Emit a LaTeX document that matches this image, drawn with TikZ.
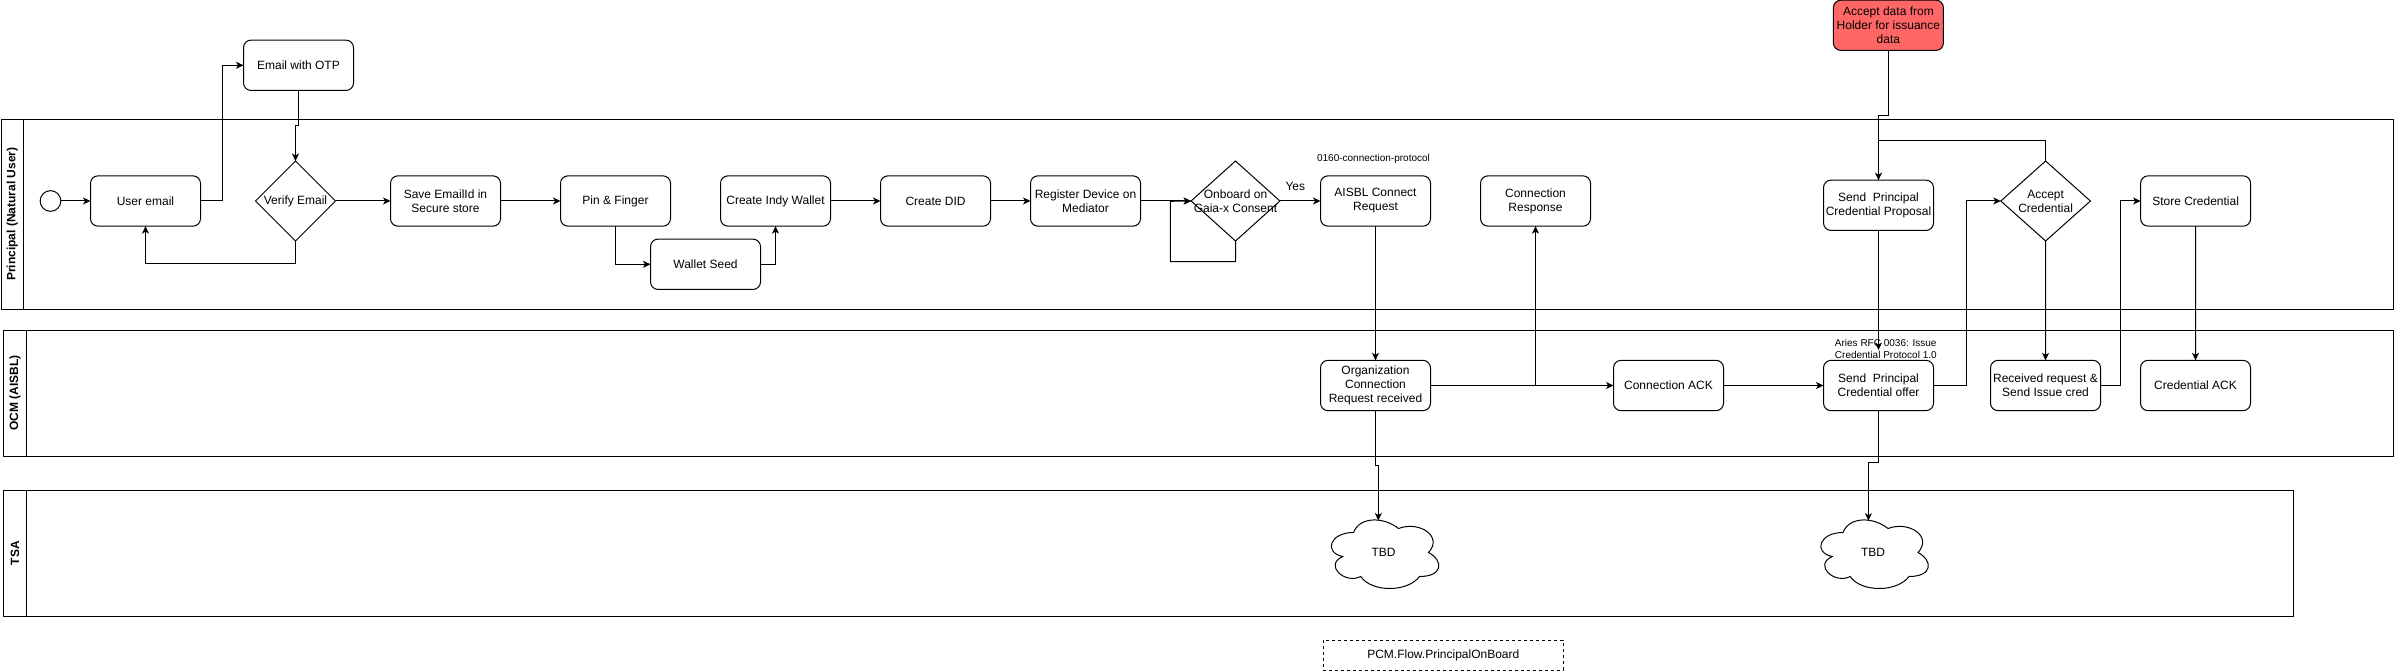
\documentclass[tikz,border=0pt]{standalone}
\usepackage{fontspec}
\setmainfont{Liberation Sans}
\usetikzlibrary{arrows.meta,shapes.geometric}

% draw.io style cloud around a named node
\newcommand{\tbdcloud}[1]{%
  \draw[shift={(#1.center)},x=120pt,y=80pt]
    (-.25,.25) .. controls (-.45,.25) and (-.5,0) .. (-.34,-.05)
    .. controls (-.5,-.16) and (-.32,-.4) .. (-.19,-.3)
    .. controls (-.1,-.5) and (.2,-.5) .. (.3,-.3)
    .. controls (.5,-.3) and (.5,-.1) .. (.375,0)
    .. controls (.5,.2) and (.3,.4) .. (.125,.3)
    .. controls (0,.45) and (-.2,.45) .. (-.25,.25) -- cycle;}

\begin{document}
\begin{tikzpicture}[x=1pt,y=-1pt,>={Stealth[length=7.5pt,width=7pt,inset=2pt]},auto,node distance=150pt,line width=1pt,
        font=\fontsize{12}{14}\selectfont,
        task node/.style={rectangle,rounded corners=7.5pt,draw,align=center,inner sep=1pt,outer sep=0pt,
            minimum width=110pt,minimum height=50.3pt},
        gate node/.style={diamond,draw,inner sep=0pt,outer sep=0pt,minimum height=80pt,label distance=0pt},
        note node/.style={font=\fontsize{10}{12}\selectfont,inner sep=0pt,align=left},
        pool head/.style={rectangle,draw,rotate=90,inner sep=0pt,outer sep=0pt,font=\fontsize{12}{14}\selectfont\bfseries},
        pool body/.style={rectangle,draw,inner sep=0pt,outer sep=0pt,anchor=north west}]
        \useasboundingbox (0,0) rectangle (2394,671);

        % lanes
        \node[pool head, minimum width=190pt, minimum height=22.5pt] (lane1) at (12.25,214.3) {Principal (Natural User)};
        \node[pool body, minimum width=2369.5pt, minimum height=190pt] (body1) at (23.5,119.3) {};
        \node[pool head, minimum width=126pt, minimum height=22.8pt] (lane2) at (14.9,393.3) {OCM (AISBL)};
        \node[pool body, minimum width=2366.7pt, minimum height=126pt] (body2) at (26.3,330.3) {};
        \node[pool head, minimum width=126pt, minimum height=22.8pt] (lane3) at (14.9,553.3) {TSA};
        \node[pool body, minimum width=2267.4pt, minimum height=126pt] (body3) at (26.3,490.3) {};

        % principal lane
        \node[circle, draw, inner sep=0pt, outer sep=0pt, minimum size=20.7pt] (start) at (50.5,201) {};
        \node[task node] (user) [right of=start, node distance=95pt] {User email};
        \node[gate node, minimum width=80pt, label={[align=center]center:Verify Email}] (verify) [right of=user] {};
        \node[task node] (otp) at (298.5,65.3) {Email with OTP};
        \node[task node] (save) [right of=verify] {Save EmailId in\\Secure store};
        \node[task node] (pin) [right of=save, node distance=170pt] {Pin \& Finger};
        \node[task node] (seed) at (705.5,264.3) {Wallet Seed};
        \node[task node] (indy) [right of=pin, node distance=160pt] {Create Indy Wallet};
        \node[task node] (did) [right of=indy, node distance=160pt] {Create DID};
        \node[task node] (mediator) [right of=did] {Register Device on\\Mediator};
        \node[gate node, minimum width=88.8pt, label={[align=center]center:Onboard on\\Gaia-x Consent}] (onboard) [right of=mediator] {};
        \node[task node] (connect) [right of=onboard, node distance=140pt] {AISBL Connect\\Request};
        \node[task node] (response) [right of=connect, node distance=160pt] {Connection\\Response};
        \node[task node, fill=red!60!white] (data) at (1888.4,25.3) {Accept data from\\Holder for issuance\\data};
        \node[task node] (proposal) at (1878.5,205.3) {Send\ \ Principal\\Credential Proposal};
        \node[gate node, minimum width=89.6pt, label={[align=center]center:Accept\\Credential}] (accept) at (2045.6,201) {};
        \node[task node] (store) [right of=accept] {Store Credential};
        \node[note node] (protocol) at (1373.5,159) {0160-connection-protocol};

        % ocm lane
        \node[task node] (org) [below of=connect, node distance=184.5pt] {Organization\\Connection\\Request received};
        \node[task node] (ack) [right of=org, node distance=293pt] {Connection ACK};
        \node[task node] (offer) [right of=ack, node distance=210pt] {Send\ \ Principal\\Credential offer};
        \node[task node] (received) [right of=offer, node distance=167pt] {Received request \&\\Send Issue cred};
        \node[task node] (credack) [right of=received] {Credential ACK};
        \node[note node] (aries) at (1885.8,348.7) {Aries RFC 0036: Issue\\Credential Protocol 1.0};

        % tsa lane
        \node[inner sep=0pt, minimum width=120pt, minimum height=80pt] (tbd1) at (1383.5,552.5) {TBD};
        \node[inner sep=0pt, minimum width=120pt, minimum height=80pt] (tbd2) at (1873,552.5) {TBD};
        \tbdcloud{tbd1}
        \tbdcloud{tbd2}
        \node[draw, dashed, inner sep=0pt, minimum width=240pt, minimum height=30pt] (flow) at (1443.3,655.3) {PCM.Flow.PrincipalOnBoard};

        % free ends
        \coordinate (cloud1) at (1378.3,520.5);
        \coordinate (cloud2) at (1868.4,520.7);
        \coordinate (ariesend) at (1878.5,350);

        \path[->]
        (start) edge (user)
        (verify) edge (save)
        (save) edge (pin)
        (indy) edge (did)
        (did) edge (mediator)
        (mediator) edge (onboard)
        (onboard) edge node [above=7pt, pos=.38] {Yes} (connect)
        (connect) edge (org)
        (ack) edge (offer)
        (accept) edge (received)
        (store) edge (credack)
        (proposal) edge (ariesend)
        ;
        \draw[->] (user.east) -- ++(21.5,0) |- (otp.west);
        \draw[->] (otp.south) -- ++(0,35.4) -| (verify.north);
        \draw[->] (verify.south) -- ++(0,22.6) -| (user.south);
        \draw[->] (pin.south) |- (seed.west);
        \draw[->] (seed.east) -| (indy.south);
        \draw[->] (onboard.south) -- ++(0,20.6) -| ++(-65.2,-60.3) -- (onboard.west);
        \draw[->] (data.south) -- ++(0,64.8) -| (proposal.north);
        \draw (accept.north) -- ++(0,-20.7) -| (proposal.north);
        \draw[->] (org.east) -- (ack.west);
        \draw[->] (org.east) -| (response.south);
        \draw[->] (offer.east) -- ++(33.3,0) |- (accept.west);
        \draw[->] (received.east) -- ++(20.2,0) |- (store.west);
        \draw[->] (org.south) -- ++(0,54.5) -| (cloud1);
        \draw[->] (offer.south) -- ++(0,51.7) -| (cloud2);
\end{tikzpicture}
\end{document}
